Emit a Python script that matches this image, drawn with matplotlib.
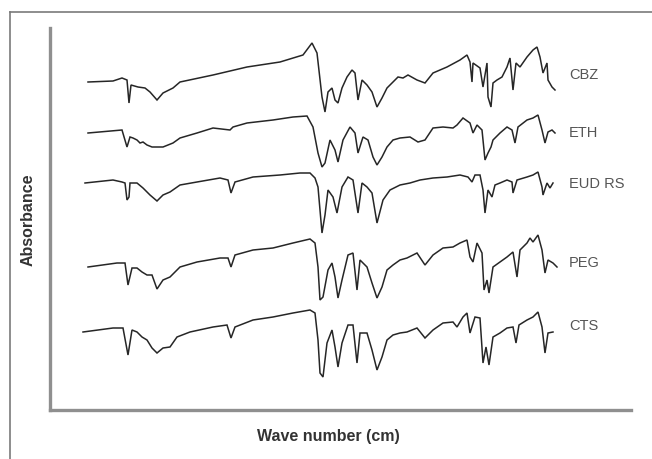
import matplotlib
matplotlib.use("Agg")
import matplotlib.pyplot as plt
from matplotlib.lines import Line2D

# ---- data (x: relative wave-number position, y: relative absorbance) ----
trace_names = ["CBZ", "ETH", "EUD RS", "PEG", "CTS"]
trace_offsets = [0, -51, -101, -185, -248]

cbz_x = [88, 113, 122, 127, 129, 131, 138, 145, 150, 157, 163, 173, 180, 213, 247, 280, 303, 312, 317,
         322, 325, 328, 332, 335, 338, 342, 347, 352, 355, 358, 362, 367, 372, 377, 382, 387, 393, 398,
         403, 408, 417, 425, 433, 447, 460, 467, 470, 472, 473, 480, 483, 487, 488, 491, 493, 497, 502,
         507, 510, 513, 516, 520, 527, 533, 537, 540, 543, 547, 548, 552, 555]
cbz_y = [0, 1, 4, 2, -21, -3, -5, -6, -10, -18, -11, -6, 0, 7, 15, 20, 27, 39, 29,
         -15, -30, -10, -6, -18, -21, -6, 5, 12, 9, -18, 2, -3, -10, -25, -16, -6, 0, 5,
         4, 7, 2, -1, 9, 15, 22, 27, 20, 0, 19, 14, -5, 19, -15, -25, -1, 2, 5,
         15, 24, -8, 19, 15, 25, 32, 35, 25, 9, 19, 2, -5, -8]

eth_x = [88, 122, 127, 130, 133, 137, 140, 143, 147, 152, 163, 173, 180, 197, 213, 230, 233, 247, 273,
         293, 307, 313, 318, 322, 325, 330, 335, 338, 343, 350, 355, 358, 363, 368, 373, 377, 382, 387,
         393, 400, 410, 418, 425, 433, 443, 453, 457, 463, 470, 473, 477, 482, 485, 488, 491, 493, 500,
         507, 512, 515, 518, 527, 533, 538, 542, 545, 548, 552, 555]
eth_y = [0, 3, -14, -4, -5, -7, -10, -9, -12, -14, -14, -10, -5, 0, 5, 3, 6, 10, 13,
         16, 17, 6, -20, -34, -30, -7, -17, -29, -7, 6, 0, -20, -4, -7, -24, -32, -24, -14,
         -7, -5, -4, -9, -7, 5, 6, 5, 8, 15, 10, 0, 8, 3, -27, -20, -14, -7, 0,
         6, 3, -10, 6, 13, 15, 18, 3, -10, 1, 3, 0]

eud_x = [85, 113, 122, 125, 127, 129, 130, 137, 143, 150, 157, 163, 170, 180, 197, 220, 228, 231, 235,
         253, 280, 300, 310, 315, 318, 320, 322, 325, 328, 333, 337, 342, 348, 353, 358, 362, 367, 372,
         377, 383, 390, 400, 410, 420, 433, 447, 460, 468, 472, 475, 480, 483, 485, 488, 492, 495, 500,
         507, 512, 513, 517, 527, 533, 538, 542, 543, 547, 550, 553]
eud_y = [0, 3, 1, 0, -17, -14, 0, 0, -5, -12, -18, -12, -9, -2, 1, 5, 3, -10, 1,
         6, 8, 10, 10, 5, -4, -27, -50, -32, -7, -14, -30, -4, 6, 3, -30, 0, -4, -10,
         -40, -17, -7, -2, 0, 3, 5, 6, 8, 6, 1, 8, 8, -7, -30, -7, -14, -2, 0,
         3, 1, -10, 3, 6, 8, 11, -4, -12, 0, -5, 0]

peg_x = [88, 117, 125, 128, 132, 137, 142, 147, 152, 157, 163, 170, 180, 197, 220, 228, 231, 235, 253,
         273, 293, 310, 315, 318, 320, 323, 328, 332, 335, 338, 342, 348, 353, 357, 360, 367, 372, 377,
         382, 387, 393, 400, 407, 417, 425, 433, 443, 453, 460, 467, 470, 473, 477, 482, 484, 487, 489,
         493, 500, 507, 513, 517, 520, 527, 530, 533, 538, 542, 545, 548, 553, 557]
peg_y = [0, 4, 4, -18, -1, -1, -5, -8, -8, -22, -13, -10, 0, 5, 9, 9, 0, 12, 17,
         19, 24, 28, 24, 0, -33, -30, -3, 4, -10, -31, -13, 12, 14, -23, 7, 0, -16, -31,
         -20, -3, 2, 7, 9, 14, 2, 12, 19, 20, 24, 27, 10, 5, 24, 14, -23, -13, -26,
         0, 5, 10, 15, -10, 17, 24, 29, 25, 32, 17, -6, 7, 4, 0]

cts_x = [83, 113, 123, 128, 132, 137, 142, 147, 152, 157, 163, 170, 177, 190, 213, 227, 231, 235, 253,
         273, 293, 310, 315, 318, 320, 323, 327, 332, 335, 338, 342, 348, 353, 357, 360, 367, 372, 377,
         382, 387, 393, 400, 407, 417, 425, 433, 443, 453, 457, 463, 467, 470, 475, 480, 483, 486, 489,
         493, 500, 507, 513, 516, 519, 527, 533, 538, 542, 545, 548, 553]
cts_y = [-2, 2, 2, -25, 0, -2, -7, -10, -18, -23, -18, -17, -7, -2, 3, 5, -8, 3, 10,
         13, 17, 20, 17, -10, -43, -47, -13, 0, -17, -37, -13, 5, 5, -33, -3, -3, -20, -40,
         -27, -10, -5, -3, -2, 2, -8, 0, 7, 8, 3, 13, 17, -3, 13, 12, -33, -17, -35,
         -7, -3, 2, 3, -13, 5, 10, 13, 18, 3, -23, -3, -2]

xs = [cbz_x, eth_x, eud_x, peg_x, cts_x]
ys = [cbz_y, eth_y, eud_y, peg_y, cts_y]

# ---- layout ----
label_x = 569
label_dy = [7, 0, -1, 4, 4]

plt.rcParams['font.family'] = ['Liberation Sans', 'DejaVu Sans']

fig = plt.figure(figsize=(6.52, 4.59), dpi=100)
ax = fig.add_axes([50 / 652, (459 - 410) / 459, 581 / 652, (410 - 28) / 459])

for name, off, x, y, dy in zip(trace_names, trace_offsets, xs, ys, label_dy):
    ax.plot(x, [v + off for v in y], color='#262626', lw=1.1, solid_joinstyle='miter')
    ax.text(label_x, off + dy, name, fontsize=10.5, color='#555555', va='center', ha='left')

ax.set_xlim(50, 631)
ax.set_ylim(-328, 54)
ax.set_xticks([])
ax.set_yticks([])
for s in ['top', 'right']:
    ax.spines[s].set_visible(False)
for s in ['left', 'bottom']:
    ax.spines[s].set_color('#8f8f8f')
    ax.spines[s].set_linewidth(2.4)
    ax.spines[s].set_capstyle('projecting')

fig.text(28 / 652, 1 - 220 / 459, 'Absorbance', rotation=90, fontsize=11.5, fontweight='bold',
         color='#333333', ha='center', va='center')
fig.text(328 / 652, 1 - 437 / 459, 'Wave number (cm)', fontsize=11.5, fontweight='bold',
         color='#333333', ha='center', va='center')

# outer frame (open at right/bottom edges)
fig.add_artist(Line2D([10 / 652, 10 / 652], [0, 1 - 12 / 459], transform=fig.transFigure,
                      color='#7a7a7a', lw=1.2))
fig.add_artist(Line2D([10 / 652, 1], [1 - 12 / 459, 1 - 12 / 459], transform=fig.transFigure,
                      color='#7a7a7a', lw=1.2))

fig.savefig('out.png', dpi=100, facecolor='white')
